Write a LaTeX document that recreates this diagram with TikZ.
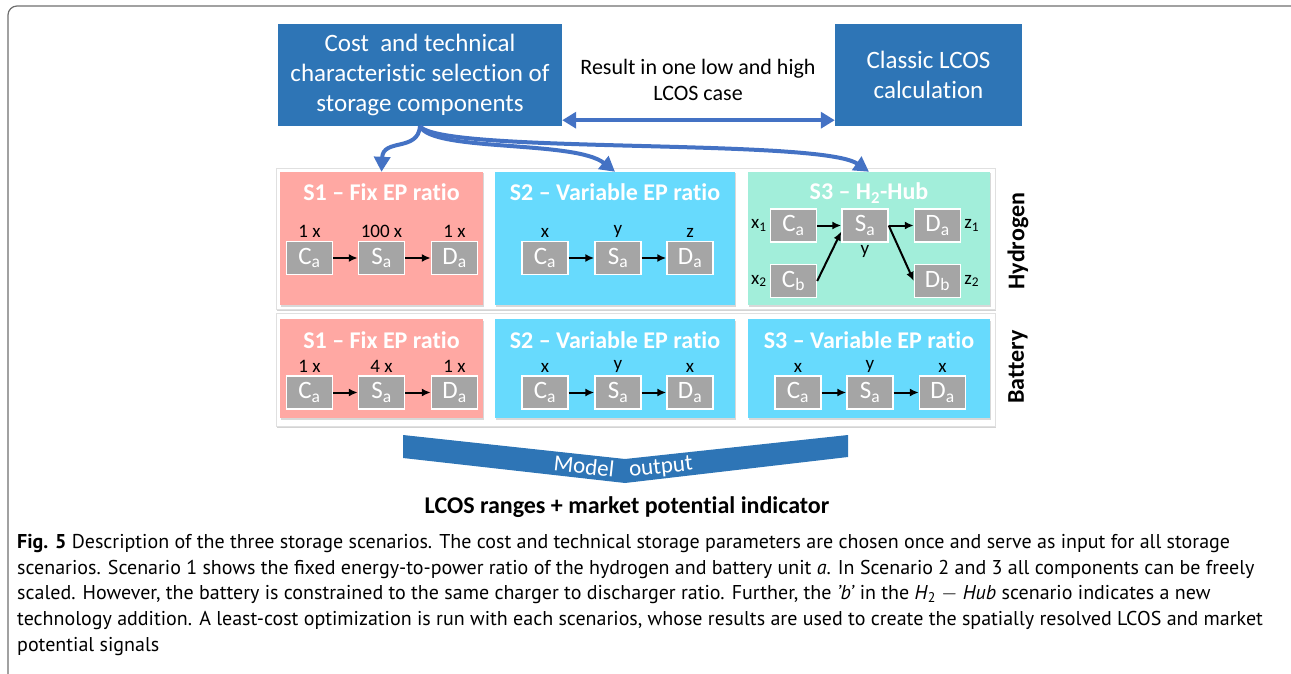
\documentclass[tikz,border=0pt]{standalone}
\usepackage{fontspec}
\setmainfont[Ligatures={TeX,NoCommon}]{Carlito}
\newfontfamily\capfont{PT Sans}
\usepackage{tikz}
\usetikzlibrary{arrows.meta}
\usetikzlibrary{shadows}
\usetikzlibrary{positioning}

\definecolor{boxblue}{HTML}{2E75B6}
\definecolor{linkblue}{HTML}{4472C4}
\definecolor{fixred}{HTML}{FFA8A3}
\definecolor{varcyan}{HTML}{67DAFD}
\definecolor{hubgreen}{HTML}{A2EEDA}
\definecolor{compgray}{HTML}{A5A5A5}
\definecolor{framegray}{HTML}{6E6E6E}

\newcommand{\fsz}[2]{\fontsize{#1}{#2}\selectfont}
\newcommand{\lowsub}[1]{\textsubscript{#1}}

\tikzset{
  % softer shadows under the panels
  every shadow/.style={opacity=.35,shadow xshift=.8pt,shadow yshift=-2pt},
  % black flow arrows between the components
  every edge/.append style={-{Latex[length=9pt,width=8pt]},line width=2pt},
  topbox/.style={fill=boxblue,text=white,align=center,inner sep=0pt,font=\fsz{25}{30}},
  link/.style={linkblue,line width=4pt,-{Triangle[length=15pt,width=16pt]}},
  panel/.style={fill=white,draw=black!12,drop shadow,inner sep=0pt},
  scen/.style={fill=#1,drop shadow={opacity=.3,shadow xshift=.5pt,shadow yshift=-1.5pt},inner sep=0pt},
  scentitle/.style={text=white,font=\bfseries\fsz{24}{28}},
  comp/.style={fill=compgray,draw=white,line width=1.4pt,minimum width=46pt,
    minimum height=33pt,inner sep=0pt,text=white,font=\fsz{25}{25}},
  amount/.style={font=\fsz{19}{19},inner sep=3pt},
  rowname/.style={rotate=90,font=\bfseries\fsz{24}{24}},
  bandtext/.style={text=white,font=\fsz{23}{23},inner sep=0pt},
}

\begin{document}
\begin{tikzpicture}[x=1pt,y=-1pt]
  \useasboundingbox (0,0) rectangle (1291,674);
  \draw[framegray,line width=1.2pt,rounded corners=9pt] (8,674) -- (8,6) -- (1291,6);

  % selection and classic calculation
  \node[topbox,minimum width=284pt,minimum height=102pt] (cost) at (420,75)
    {Cost\ \ and technical\\characteristic selection of\\storage components};
  \node[topbox,minimum width=187pt,minimum height=102pt] (classic) at (928.5,75)
    {Classic LCOS\\calculation};
  \node[align=center,font=\fsz{22}{26}] (result) at (698,80)
    {Result in one low and high\\LCOS case};
  \draw[linkblue,line width=4.5pt,{Triangle[length=14pt,width=16pt]}-{Triangle[length=14pt,width=16pt]}]
    ([yshift=6pt]cost.south east) -- ([yshift=6pt]classic.south west);

  % the two rows of scenarios
  \node[panel,minimum width=719pt,minimum height=141pt] (hpanel) at (635.5,238.5) {};
  \node[panel,minimum width=719pt,minimum height=113pt] (bpanel) at (635.5,369.5) {};

  \node[scen=fixred,minimum width=203pt,minimum height=133pt] (hfix) at (381.5,238.5) {};
  \node[scen=varcyan,minimum width=240pt,minimum height=133pt] (hvar) at (615,238.5) {};
  \node[scen=hubgreen,minimum width=242pt,minimum height=133pt] (hhub) at (869,238.5) {};
  \node[scen=fixred,minimum width=203pt,minimum height=99pt] (bfix) at (381.5,368.5) {};
  \node[scen=varcyan,minimum width=240pt,minimum height=99pt] (bvar) at (615,368.5) {};
  \node[scen=varcyan,minimum width=242pt,minimum height=99pt] (bvar3) at (869,368.5) {};

  \node[scentitle] (hfixtitle) at ([yshift=-20pt]hfix.north) {S1 – Fix EP ratio};
  \node[scentitle] (hvartitle) at ([yshift=-20pt]hvar.north) {S2 – Variable EP ratio};
  \node[scentitle] (hhubtitle) at ([yshift=-21pt]hhub.north) {S3 – H\lowsub{2}-Hub};
  \node[scentitle] (bfixtitle) at ([yshift=-21pt]bfix.north) {S1 – Fix EP ratio};
  \node[scentitle] (bvartitle) at ([yshift=-21pt]bvar.north) {S2 – Variable EP ratio};
  \node[scentitle] (bvar3title) at ([yshift=-21pt]bvar3.north) {S3 – Variable EP ratio};

  \node[rowname] (hname) at (1018,241) {Hydrogen};
  \node[rowname] (bname) at (1018,367) {Battery};

  % hydrogen components
  \node[comp,label={[amount]above:1 x}] (hfixC) at (309.5,258) {C\lowsub{a}};
  \node[comp,label={[amount]above:100 x}] (hfixS) at (381.5,258) {S\lowsub{a}};
  \node[comp,label={[amount]above:1 x}] (hfixD) at (454.5,258) {D\lowsub{a}};
  \node[comp,label={[amount]above:x}] (hvarC) at (545,258) {C\lowsub{a}};
  \node[comp,label={[amount]above:y}] (hvarS) at (618,258) {S\lowsub{a}};
  \node[comp,label={[amount]above:z}] (hvarD) at (690,258) {D\lowsub{a}};
  \node[comp,label={[amount]left:x\lowsub{1}}] (hhubCa) at (793.5,225.5) {C\lowsub{a}};
  \node[comp,label={[amount]left:x\lowsub{2}}] (hhubCb) at (793.5,281) {C\lowsub{b}};
  \node[comp,label={[amount]below:y}] (hhubS) at (865,225.5) {S\lowsub{a}};
  \node[comp,label={[amount]right:z\lowsub{1}}] (hhubDa) at (937.5,225.5) {D\lowsub{a}};
  \node[comp,label={[amount]right:z\lowsub{2}}] (hhubDb) at (937.5,281) {D\lowsub{b}};

  % battery components
  \node[comp,label={[amount]above:1 x}] (bfixC) at (309.5,392.5) {C\lowsub{a}};
  \node[comp,label={[amount]above:4 x}] (bfixS) at (381.5,392.5) {S\lowsub{a}};
  \node[comp,label={[amount]above:1 x}] (bfixD) at (454.5,392.5) {D\lowsub{a}};
  \node[comp,label={[amount]above:x}] (bvarC) at (545,392.5) {C\lowsub{a}};
  \node[comp,label={[amount]above:y}] (bvarS) at (618,392.5) {S\lowsub{a}};
  \node[comp,label={[amount]above:x}] (bvarD) at (690,392.5) {D\lowsub{a}};
  \node[comp,label={[amount]above:x}] (bvar3C) at (798,392.5) {C\lowsub{a}};
  \node[comp,label={[amount]above:y}] (bvar3S) at (870,392.5) {S\lowsub{a}};
  \node[comp,label={[amount]above:x}] (bvar3D) at (942.5,392.5) {D\lowsub{a}};

  \path
  (hfixC) edge (hfixS)
  (hfixS) edge (hfixD)
  (hvarC) edge (hvarS)
  (hvarS) edge (hvarD)
  (hhubCa) edge (hhubS)
  (hhubCb.east) edge ([yshift=-6pt]hhubS.west)
  (hhubS) edge (hhubDa)
  (hhubS.east) edge (hhubDb.west)
  (bfixC) edge (bfixS)
  (bfixS) edge (bfixD)
  (bvarC) edge (bvarS)
  (bvarS) edge (bvarD)
  (bvar3C) edge (bvar3S)
  (bvar3S) edge (bvar3D)
  ;

  % fan out to the scenarios
  \draw[link] (cost.south) .. controls (418,152) and (383,138) .. (hfix.north);
  \draw[link] (cost.south) .. controls (432,152) and (575,140) .. (hvar.north);
  \draw[link] (cost.south) .. controls (440,154) and (820,138) .. (hhub.north);

  % model output band
  \fill[boxblue] (403,435) -- (625,459) -- (848,435) -- (848,457) -- (625,483) -- (403,458) -- cycle;
  \node[bandtext,rotate=-6.2] (model) at (584,466) {Model};
  \node[bandtext,rotate=6.2] (output) at (661,468) {output};
  \node[font=\bfseries\fsz{24}{24}] (lcos) at (627,507) {LCOS ranges + market potential indicator};

  % caption
  \node[anchor=north west,align=left,inner sep=0pt,font=\capfont\fsz{20}{25.7}] (caption) at (17,534)
    {\textbf{Fig. 5} Description of the three storage scenarios. The cost and technical storage parameters are chosen once and serve as input for all storage\\
     scenarios. Scenario 1 shows the fixed energy-to-power ratio of the hydrogen and battery unit \textit{a}. In Scenario 2 and 3 all components can be freely\\
     scaled. However, the battery is constrained to the same charger to discharger ratio. Further, the \textit{’b’} in the \textit{H}\textsubscript{2} $-$ \textit{Hub} scenario indicates a new\\
     technology addition. A least-cost optimization is run with each scenarios, whose results are used to create the spatially resolved LCOS and market\\
     potential signals};
\end{tikzpicture}
\end{document}
